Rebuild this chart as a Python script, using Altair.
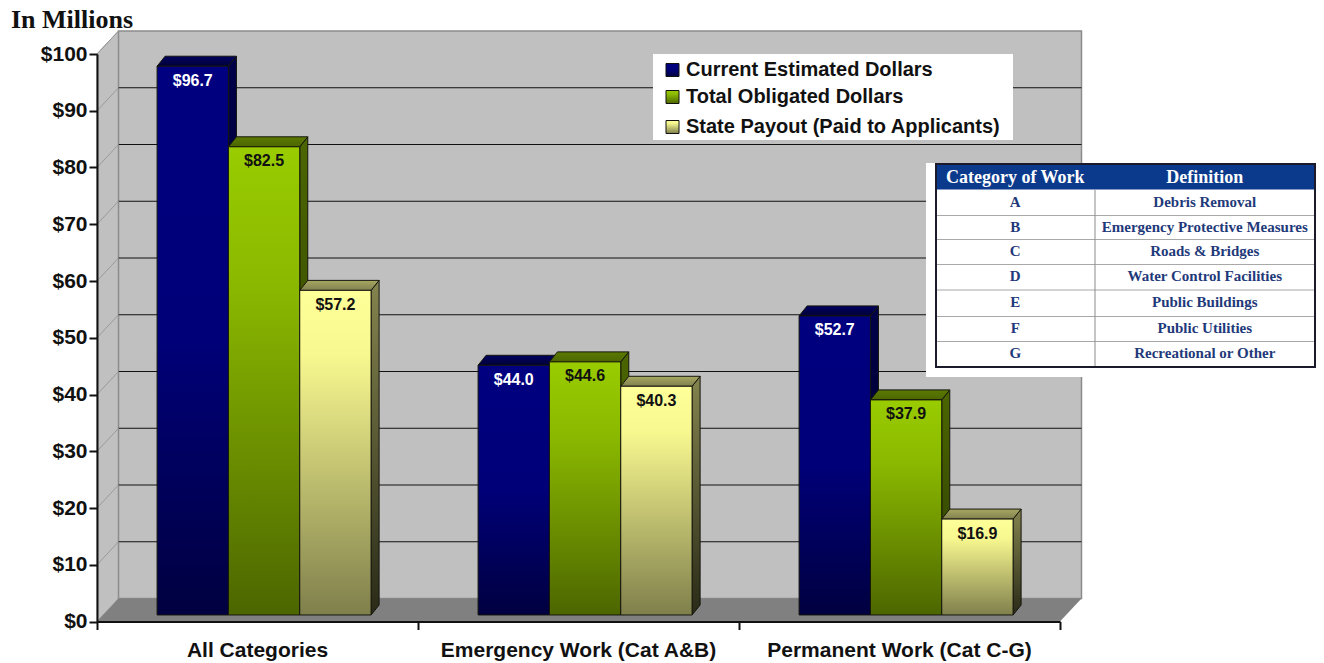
import altair as alt
import pandas as pd

# ---------- chart values ----------
categories = ["All Categories", "Emergency Work (Cat A&B)", "Permanent Work (Cat C-G)"]
series_names = ["Current Estimated Dollars", "Total Obligated Dollars", "State Payout (Paid to Applicants)"]
current_estimated = [96.7, 44.0, 52.7]
total_obligated = [82.5, 44.6, 37.9]
state_payout = [57.2, 40.3, 16.9]
y_ticks = [0, 10, 20, 30, 40, 50, 60, 70, 80, 90, 100]
x_ticks = [0, 1, 2, 3]
table_header = ["Category of Work", "Definition"]
table_codes = ["A", "B", "C", "D", "E", "F", "G"]
table_defs = ["Debris Removal", "Emergency Protective Measures", "Roads & Bridges",
              "Water Control Facilities", "Public Buildings", "Public Utilities", "Recreational or Other"]

# ---------- layout ----------
ORIGIN_X, ORIGIN_Y = 97, 54
W, H = 963, 567.5
SANS, SERIF = "Liberation Sans", "Liberation Serif"
WALL_DX, WALL_DY = 0.067, 4.05     # depth of the box, data units
BAR_DX, BAR_DY = 0.025, 1.76       # depth of one bar
SHIFT_X, SHIFT_Y = 0.0205, 1.15    # bars stand part-way into the box
BAR_FRAC = 2 / 9
GROUP_PAD = 1 / 6


def grad(c0, c1, mid=None):
    stops = [alt.GradientStop(color=c0, offset=0)]
    if mid:
        stops.append(alt.GradientStop(color=mid[0], offset=mid[1]))
    stops.append(alt.GradientStop(color=c1, offset=1))
    return alt.Gradient(gradient="linear", x1=0, y1=0, x2=0, y2=1, stops=stops)


xs = alt.Scale(domain=[0, 3], nice=False, zero=False)
ys = alt.Scale(domain=[0, 100], nice=False, zero=False)
x_axis = alt.Axis(values=x_ticks, labels=False, tickSize=8, tickWidth=2, tickColor="#111",
                  domainColor="#111", domainWidth=2, grid=False, zindex=1, title=None)
y_axis = alt.Axis(values=y_ticks, labelExpr="'$' + datum.value", labelFont=SANS, labelFontSize=21,
                  labelFontWeight="bold", labelColor="#111", labelPadding=2, tickSize=8, tickWidth=2,
                  tickColor="#111", domainColor="#111", domainWidth=2, grid=False, zindex=1, title=None)


def X(f="x"):
    return alt.X(f"{f}:Q", scale=xs, axis=x_axis, title=None)


def Y(f="y"):
    return alt.Y(f"{f}:Q", scale=ys, axis=y_axis, title=None)


def px(v):
    return alt.value(v - ORIGIN_X)


def py(v):
    return alt.value(v - ORIGIN_Y)


layers = []

# ---------- box ----------
left_wall = pd.DataFrame({"x": [0, WALL_DX], "y": [0, WALL_DY], "y2": [100, 100 + WALL_DY]})
layers.append(alt.Chart(left_wall).mark_area(orient="vertical", color="#c0c0c0", stroke="#9a9a9a", strokeWidth=1).encode(
    x=X(), y=Y(), y2="y2:Q"))

back_wall = pd.DataFrame({"x": [WALL_DX], "x2": [3 + WALL_DX], "y": [WALL_DY], "y2": [100 + WALL_DY]})
layers.append(alt.Chart(back_wall).mark_rect(color="#c0c0c0", stroke="#8c8c8c", strokeWidth=1.5).encode(
    x=X(), x2="x2:Q", y=Y(), y2="y2:Q"))

floor = pd.DataFrame({"y": [0, WALL_DY], "x": [0, WALL_DX], "x2": [3, 3 + WALL_DX]})
layers.append(alt.Chart(floor).mark_area(orient="horizontal", color="#808080").encode(
    x=X(), x2="x2:Q", y=Y()))

grid = pd.DataFrame({"y": [t + WALL_DY for t in y_ticks[1:-1]], "x": WALL_DX, "x2": 3 + WALL_DX})
layers.append(alt.Chart(grid).mark_rule(color="#111", strokeWidth=1.2).encode(x=X(), x2="x2:Q", y=Y()))

diag = pd.DataFrame([{"t": t, "x": dx, "y": t + dy} for t in y_ticks[1:] for dx, dy in ((0, 0), (WALL_DX, WALL_DY))])
layers.append(alt.Chart(diag).mark_line(color="#9a9a9a", strokeWidth=1).encode(x=X(), y=Y(), detail="t:N"))

# ---------- bars ----------
styles = [
    dict(values=current_estimated, front=grad("#000080", "#000040", ("#000078", 0.5)),
         side=grad("#00004a", "#00001a"), top=grad("#000060", "#000038"), label="white"),
    dict(values=total_obligated, front=grad("#99cc00", "#4c6600", ("#8ab800", 0.3)),
         side=grad("#4c6600", "#2a3a00"), top=grad("#5c7a00", "#4c6600"), label="#111"),
    dict(values=state_payout, front=grad("#ffff99", "#7f7f4c", ("#f8f890", 0.2)),
         side=grad("#84844f", "#2a2a18"), top=grad("#a8a862", "#808050"), label="#111"),
]

label_layers = []
for s, st in enumerate(styles):
    front, side, top, lab = [], [], [], []
    for g, v in enumerate(st["values"]):
        x0 = g + GROUP_PAD + s * BAR_FRAC + SHIFT_X
        x1 = x0 + BAR_FRAC
        vt = v + SHIFT_Y
        front.append({"x": x0, "x2": x1, "y": SHIFT_Y, "y2": vt})
        side += [{"g": g, "x": x1, "y": SHIFT_Y, "y2": vt},
                 {"g": g, "x": x1 + BAR_DX, "y": SHIFT_Y + BAR_DY, "y2": vt + BAR_DY}]
        top += [{"g": g, "y": vt, "x": x0, "x2": x1},
                {"g": g, "y": vt + BAR_DY, "x": x0 + BAR_DX, "x2": x1 + BAR_DX}]
        lab.append({"x": (x0 + x1) / 2, "y": vt, "t": f"${v:.1f}"})
    layers.append(alt.Chart(pd.DataFrame(side)).mark_area(orient="vertical", color=st["side"], stroke="#15150c", strokeWidth=1).encode(
        x=X(), y=Y(), y2="y2:Q", detail="g:N"))
    layers.append(alt.Chart(pd.DataFrame(top)).mark_area(orient="horizontal", color=st["top"], stroke="#15150c", strokeWidth=1).encode(
        y=Y(), x=X(), x2="x2:Q", detail="g:N"))
    layers.append(alt.Chart(pd.DataFrame(front)).mark_rect(color=st["front"], stroke="#15150c", strokeWidth=1).encode(
        x=X(), x2="x2:Q", y=Y(), y2="y2:Q"))
    label_layers.append(alt.Chart(pd.DataFrame(lab)).mark_text(
        font=SANS, fontSize=16, fontWeight="bold", color=st["label"], baseline="middle", dy=14.5).encode(
        x=X(), y=Y(), text="t:N"))
layers += label_layers

# ---------- category labels ----------
cats = pd.DataFrame({"x": [i + 0.5 for i in range(3)], "t": categories})
layers.append(alt.Chart(cats).mark_text(font=SANS, fontSize=21, fontWeight="bold", color="#111", baseline="middle").encode(
    x=X(), y=py(651), text="t:N"))


def box(x0, x1, y0, y1, **kw):
    return alt.Chart(pd.DataFrame({"a": [1]})).mark_rect(**kw).encode(x=px(x0), x2=px(x1), y=py(y0), y2=py(y1))


def text(label, x, y, **kw):
    return alt.Chart(pd.DataFrame({"t": [label]})).mark_text(baseline="middle", **kw).encode(x=px(x), y=py(y), text="t:N")


# ---------- title ----------
layers.append(text("In Millions", 11, 20, align="left", font=SERIF, fontSize=26, fontWeight="bold", color="#111"))

# ---------- legend ----------
layers.append(box(653, 1013, 54, 140, color="white"))
legend_y = [70, 97, 127]
for name, yy, st in zip(series_names, legend_y, styles):
    layers.append(box(666, 679, yy - 6.5, yy + 6.5, color=st["front"], stroke="#111", strokeWidth=1))
    layers.append(text(name, 686, yy, align="left", font=SANS, fontSize=20, fontWeight="bold", color="#111"))

# ---------- definition table ----------
T_LEFT, T_MID, T_RIGHT = 936, 1094.5, 1315
row_edges = [164, 189.5, 215.5, 239.5, 264.5, 290, 316.5, 341.5, 367]
layers.append(box(926, 1324, 163, 377, color="white"))
layers.append(box(T_LEFT, T_RIGHT, row_edges[0], row_edges[1], color="#0b3a8c"))
for e in row_edges[2:-1]:
    layers.append(box(T_LEFT, T_RIGHT, e - 0.5, e + 0.5, color="#a8a8a8"))
layers.append(box(T_MID, T_MID + 1, row_edges[1], row_edges[-1], color="#8c8c8c"))
layers.append(box(T_LEFT, T_RIGHT, row_edges[0], row_edges[-1], fillOpacity=0, stroke="#1a1a2a", strokeWidth=2))
hy = (row_edges[0] + row_edges[1]) / 2 + 1
c1, c2 = (T_LEFT + T_MID) / 2, (T_MID + T_RIGHT) / 2
layers.append(text(table_header[0], c1, hy, align="center", font=SERIF, fontSize=18, fontWeight="bold", color="white"))
layers.append(text(table_header[1], c2, hy, align="center", font=SERIF, fontSize=18, fontWeight="bold", color="white"))
for i, (c, d) in enumerate(zip(table_codes, table_defs)):
    yy = (row_edges[i + 1] + row_edges[i + 2]) / 2 - 1
    layers.append(text(c, c1, yy, align="center", font=SERIF, fontSize=15, fontWeight="bold", color="#1f3a7a"))
    layers.append(text(d, c2, yy, align="center", font=SERIF, fontSize=15, fontWeight="bold", color="#1f3a7a"))

chart = alt.layer(*layers).properties(
    width=W, height=H,
    autosize=alt.AutoSizeParams(type="none"),
    padding={"left": ORIGIN_X - 8, "top": ORIGIN_Y - 8, "right": 1316 - ORIGIN_X - W, "bottom": 663 - ORIGIN_Y - H},
).configure_view(stroke=None).configure(background="white")

chart.save("out.html", embed_options={"renderer": "svg", "actions": False})
